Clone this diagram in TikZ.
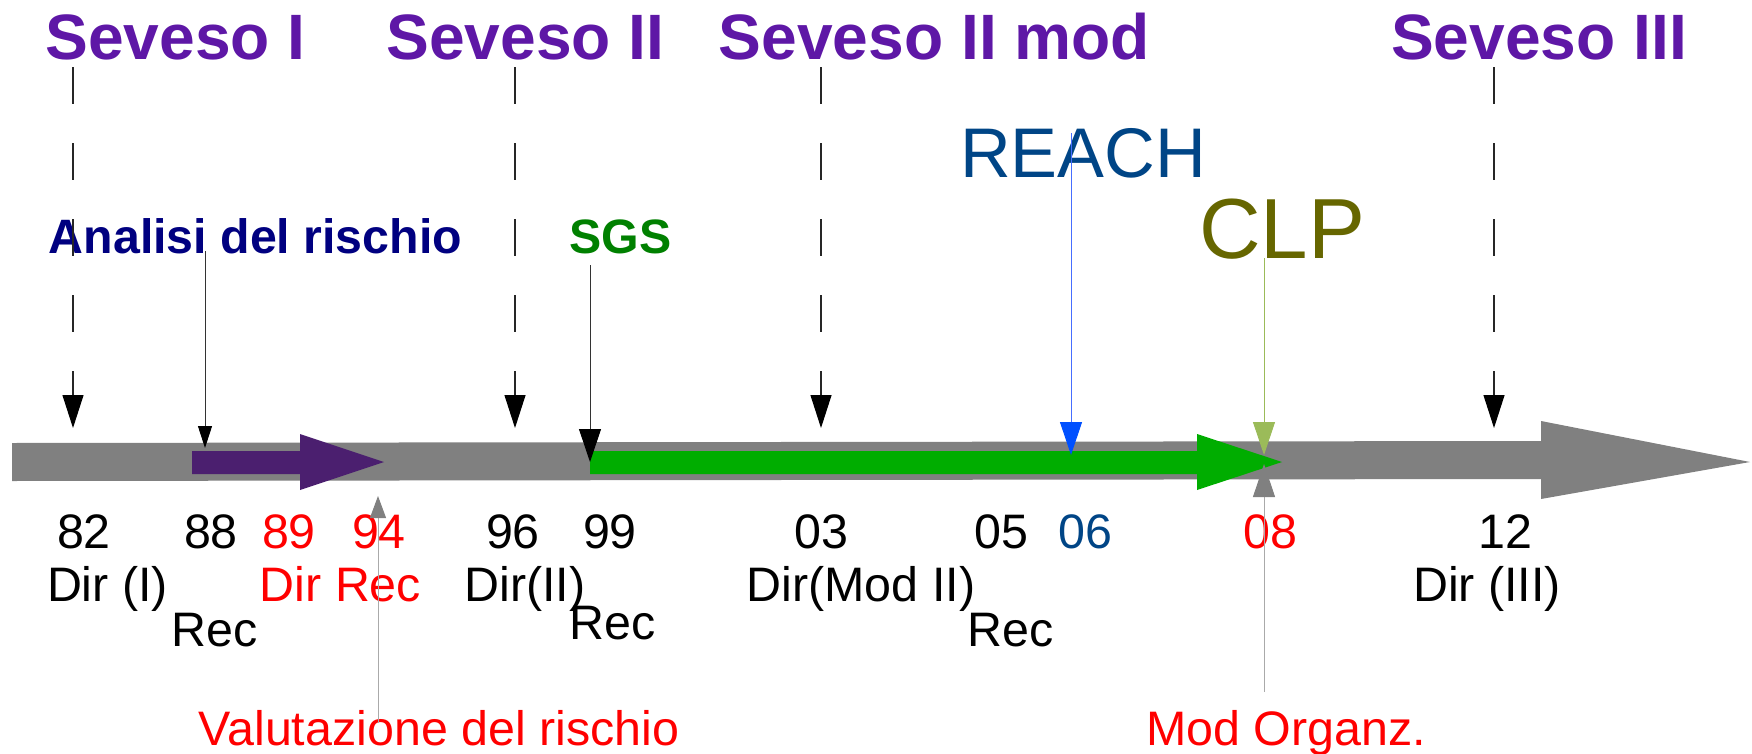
\documentclass[tikz,border=0pt]{standalone}
\usepackage{fontspec}
\setmainfont{Liberation Sans}
\usetikzlibrary{arrows.meta}
\definecolor{sevpurple}{RGB}{94,23,166}
\definecolor{navytxt}{RGB}{0,0,128}
\definecolor{sgsgreen}{RGB}{0,128,0}
\definecolor{reachblue}{RGB}{0,69,134}
\definecolor{clpolive}{RGB}{102,102,0}
\definecolor{barpurple}{RGB}{75,31,111}
\definecolor{bargreen}{RGB}{0,173,0}
\definecolor{bargray}{RGB}{128,128,128}
\definecolor{headblue}{RGB}{0,80,255}
\definecolor{linkblue}{RGB}{70,110,255}
\definecolor{clpgreen}{RGB}{155,187,89}
\definecolor{pingray}{RGB}{170,170,170}

\begin{document}
\begin{tikzpicture}[x=0.75pt,y=-0.75pt,
  title/.style={font=\bfseries\fontsize{48.1}{52}\selectfont, text=sevpurple, inner sep=0pt, anchor=base},
  topic/.style={font=\bfseries\fontsize{36.2}{40}\selectfont, inner sep=0pt, anchor=base},
  lbl/.style={font=\fontsize{36.3}{40}\selectfont, inner sep=0pt, anchor=base},
  era/.style={draw=black!85, line width=0.85pt, dash pattern=on 28.1pt off 28.9pt,
    -{Triangle[length=24.75pt,width=15.75pt,color=black]}},
  pin/.style={line width=0.75pt, -{Triangle[length=24.75pt,width=16.5pt]}},
  smallpin/.style={line width=0.75pt, -{Triangle[length=16.5pt,width=11pt]}}
]
\useasboundingbox (0,0) rectangle (1752,753);

% timeline and the two period arrows
\fill[bargray] (12,443) -- (1541,441) -- (1541,421) -- (1750,462) -- (1541,499) -- (1541,479) -- (12,481) -- cycle;
\fill[barpurple] (192,451) -- (300,451) -- (300,434) -- (384,462) -- (300,490) -- (300,474) -- (192,474) -- cycle;
\fill[bargreen] (590,451) -- (1197,451) -- (1197,434) -- (1282,462) -- (1197,490) -- (1197,474) -- (590,474) -- cycle;

% directive titles
\node[title] (sev1)   at (175.5,59) {Seveso I};
\node[title] (sev2)   at (525.5,59) {Seveso II};
\node[title] (sev2m)  at (934.5,59) {Seveso II mod};
\node[title] (sev3)   at (1539,59)  {Seveso III};

% topics
\node[topic, text=navytxt]  (analisi) at (255.5,253) {Analisi del rischio};
\node[topic, text=sgsgreen] (sgs)     at (620.5,253) {SGS};
\node[font=\fontsize{52.7}{57}\selectfont, text=reachblue, inner sep=0pt, anchor=base] (reach) at (1083,177) {REACH};
\node[font=\fontsize{64}{68}\selectfont, text=clpolive, inner sep=0pt, anchor=base] (clp) at (1282,258) {CLP};

% years
\node[lbl] (y82) at (84,548)   {82};
\node[lbl] (y88) at (211,548)  {88};
\node[lbl, text=red] (y89) at (289,548) {89};
\node[lbl, text=red] (y94) at (379,548) {94};
\node[lbl] (y96) at (513,548)  {96};
\node[lbl] (y99) at (610,548)  {99};
\node[lbl] (y03) at (821,548)  {03};
\node[lbl] (y05) at (1001,548) {05};
\node[lbl, text=reachblue] (y06) at (1085,548) {06};
\node[lbl, text=red] (y08) at (1270,548) {08};
\node[lbl] (y12) at (1505,548) {12};

% acts
\node[lbl] (d1)   at (107.5,601) {Dir (I)};
\node[lbl] (r88)  at (215,646)   {Rec};
\node[lbl, text=red] (dr) at (340.5,601) {Dir Rec};
\node[lbl] (d2)   at (525,601)   {Dir(II)};
\node[lbl] (r99)  at (613,639)   {Rec};
\node[lbl] (dm)   at (861,601)   {Dir(Mod II)};
\node[lbl] (r05)  at (1011,646)  {Rec};
\node[lbl] (d3)   at (1487,601)  {Dir (III)};
\node[lbl, text=red] (valut) at (439,745) {Valutazione del rischio};
\node[lbl, text=red] (modorg) at (1286,745) {Mod Organz.};

% connector ends
\coordinate (s1a) at (73,67);    \coordinate (s1b) at (73,428);
\coordinate (s2a) at (515,67);   \coordinate (s2b) at (515,428);
\coordinate (s2ma) at (821,67);  \coordinate (s2mb) at (821,428);
\coordinate (s3a) at (1494,67);  \coordinate (s3b) at (1494,428);
\coordinate (ana) at (205,251);  \coordinate (anb) at (205,448);
\coordinate (sga) at (590,265);  \coordinate (sgb) at (590,462);
\coordinate (rea) at (1071,133); \coordinate (reb) at (1071,455);
\coordinate (cla) at (1264,258); \coordinate (clb) at (1264,455);
\coordinate (moa) at (1264,692); \coordinate (mob) at (1264,464);
\coordinate (vaa) at (378,723);  \coordinate (vab) at (378,496);

% dashed directive markers
\draw[era] (s1a) -- (s1b);
\draw[era] (s2a) -- (s2b);
\draw[era] (s2ma) -- (s2mb);
\draw[era] (s3a) -- (s3b);

% topic pins
\draw[smallpin, draw=black!80, -{Triangle[length=16.5pt,width=10.5pt,color=black]}] (ana) -- (anb);
\draw[pin, draw=black!80, -{Triangle[length=24.75pt,width=16.5pt,color=black]}] (sga) -- (sgb);
\draw[pin, draw=linkblue, -{Triangle[length=24.75pt,width=16.5pt,color=headblue]}] (rea) -- (reb);
\draw[pin, draw=clpgreen, -{Triangle[length=24.75pt,width=16.5pt,color=clpgreen]}] (cla) -- (clb);
\draw[pin, draw=pingray, -{Triangle[length=24.75pt,width=16.5pt,color=bargray]}] (moa) -- (mob);
\draw[smallpin, draw=pingray, -{Triangle[length=16.5pt,width=12pt,color=bargray]}] (vaa) -- (vab);
\end{tikzpicture}
\end{document}
